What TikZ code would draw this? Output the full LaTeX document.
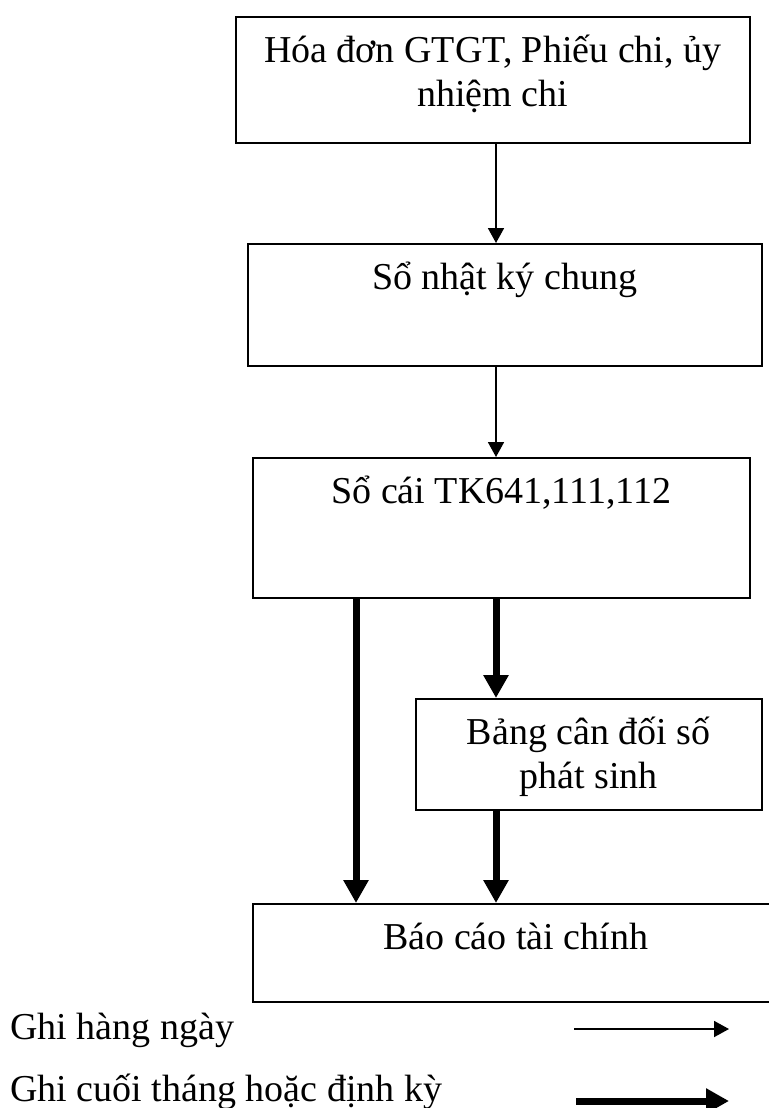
\documentclass[tikz,border=0pt]{standalone}
\usepackage{fontspec}
\setmainfont{Liberation Serif}
\usetikzlibrary{arrows.meta,calc}
\tikzset{
  every node/.style={font=\fontsize{19}{22}\selectfont},
  % --- nodes
  bx/.style    = {draw, line width=0.8pt, align=flush center, inner sep=0pt, text height=23pt},
  lbl/.style   = {inner sep=0pt, anchor=base west},
  % --- edges
  ethin/.style = {-{Triangle[width=8pt,length=7.5pt]}, line width=0.9pt},
  ethick/.style= {-{Triangle[width=12pt,length=11.5pt]}, line width=3.5pt},
}
\begin{document}
\begin{tikzpicture}[x=0.5pt,y=-0.5pt]
  \useasboundingbox (0,0) rectangle (769,1108);
  \coordinate (mid) at (496,0);
  \coordinate (lft) at (356,0);
  % boxes
  \node[bx, anchor=north west, minimum width=257pt, text width=250pt, text depth=40pt] (hd) at (235,16)
    {Hóa đơn GTGT, Phiếu chi, ủy\\nhiệm chi};
  \node[bx, anchor=north west, minimum width=257pt, text depth=38pt] (nk) at (247,243) {Sổ nhật ký chung};
  \node[bx, anchor=north west, minimum width=248.5pt, text depth=47pt] (sc) at (252,457) {Sổ cái TK641,111,112};
  \node[bx, anchor=north west, minimum width=173pt, text width=170pt, text depth=32.5pt] (bcd) at (415,698)
    {Bảng cân đối số\\phát sinh};
  \node[bx, anchor=north west, minimum width=263pt, text depth=26pt] (bctc) at (252,903) {Báo cáo tài chính};
  % flows
  \draw[ethin] (hd.south -| mid) -- (nk.north -| mid);
  \draw[ethin] (nk.south -| mid) -- (sc.north -| mid);
  \draw[ethick] (sc.south -| mid) -- (bcd.north -| mid);
  \draw[ethick] (bcd.south -| mid) -- (bctc.north -| mid);
  \draw[ethick] (sc.south -| lft) -- (bctc.north -| lft);
  % legend
  \node[lbl] (l1) at (10,1039) {Ghi hàng ngày};
  \node[lbl] (l2) at (10,1101) {Ghi cuối tháng hoặc định kỳ};
  \coordinate (d0) at (574,1029);
  \coordinate (d1) at (729,1029);
  \coordinate (p0) at (576,1101);
  \coordinate (p1) at (729,1101);
  \draw[ethin] (d0) -- (d1);
  \draw[ethick] (p0) -- (p1);
\end{tikzpicture}
\end{document}
